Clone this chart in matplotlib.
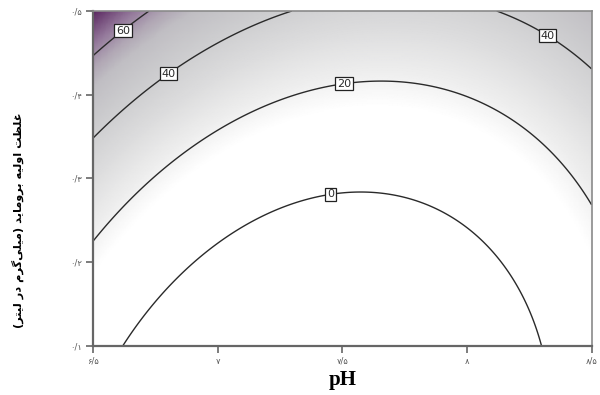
import numpy as np
import matplotlib
matplotlib.use("Agg")
import matplotlib.pyplot as plt
from matplotlib.colors import LinearSegmentedColormap, Normalize

# response-surface model (coded units)
# y = b0 + b1*X + b2*Y + b12*X*Y + b11*X^2 + b22*Y^2
coef_names = ["b0", "b1", "b2", "b12", "b11", "b22"]
coef_vals = [2.31, -4.17, 27.23, -6.23, 25.0, 7.32]
ph_center, ph_step = 7.5, 1.0
conc_center, conc_step = 0.3, 0.2

levels = [0, 20, 40, 60]
xticks = [6.5, 7.0, 7.5, 8.0, 8.5]
xtick_labels = ["۶/۵", "۷", "۷/۵", "۸", "۸/۵"]
yticks = [0.1, 0.2, 0.3, 0.4, 0.5]
ytick_labels = ["۰/۱", "۰/۲", "۰/۳", "۰/۴", "۰/۵"]
label_spots = [(6.61, 0.480), (6.82, 0.418), (8.32, 0.469), (7.50, 0.427), (7.45, 0.285)]

ylabel_text = "غلظت اولیه بروماید (میلی\u200cگرم در لیتر)"
xlabel_text = "pH"

# --- minimal arabic shaping (matplotlib has no bidi / joining) ---
forms = {
    "ا": ("\uFE8D", "\uFE8E", None, None),
    "ب": ("\uFE8F", "\uFE90", "\uFE91", "\uFE92"),
    "ت": ("\uFE95", "\uFE96", "\uFE97", "\uFE98"),
    "د": ("\uFEA9", "\uFEAA", None, None),
    "ر": ("\uFEAD", "\uFEAE", None, None),
    "ظ": ("\uFEC5", "\uFEC6", "\uFEC7", "\uFEC8"),
    "غ": ("\uFECD", "\uFECE", "\uFECF", "\uFED0"),
    "گ": ("\uFB92", "\uFB93", "\uFB94", "\uFB95"),
    "ل": ("\uFEDD", "\uFEDE", "\uFEDF", "\uFEE0"),
    "م": ("\uFEE1", "\uFEE2", "\uFEE3", "\uFEE4"),
    "ه": ("\uFEE9", "\uFEEA", "\uFEEB", "\uFEEC"),
    "و": ("\uFEED", "\uFEEE", None, None),
    "ی": ("\uFBFC", "\uFBFD", "\uFBFE", "\uFBFF"),
}


def dual(c):
    return c in forms and forms[c][2] is not None


def shape(text):
    out = []
    for i, c in enumerate(text):
        if c not in forms:
            if c == "\u200c":
                continue
            out.append({"(": ")", ")": "("}.get(c, c))
            continue
        prev = text[i - 1] if i > 0 else ""
        nxt = text[i + 1] if i + 1 < len(text) else ""
        jp = dual(prev)
        jn = dual(c) and nxt in forms
        if jp and jn:
            g = forms[c][3]
        elif jp:
            g = forms[c][1]
        elif jn:
            g = forms[c][2]
        else:
            g = forms[c][0]
        out.append(g)
    return "".join(reversed(out))


b = dict(zip(coef_names, coef_vals))
ph = np.linspace(6.5, 8.5, 300)
conc = np.linspace(0.1, 0.5, 300)
PH, CC = np.meshgrid(ph, conc)
X = (PH - ph_center) / ph_step
Y = (CC - conc_center) / conc_step
Z = (b["b0"] + b["b1"] * X + b["b2"] * Y + b["b12"] * X * Y
     + b["b11"] * X ** 2 + b["b22"] * Y ** 2)

cmap = LinearSegmentedColormap.from_list("rsm", [
    (0.0, "#ffffff"), (15 / 75, "#ffffff"), (22 / 75, "#eeeeee"),
    (32 / 75, "#dcdcdd"), (42 / 75, "#cdcdcf"), (52 / 75, "#c0bec3"),
    (57 / 75, "#b0a6b4"), (63 / 75, "#957a9c"), (1.0, "#4a1050")])

fig = plt.figure(figsize=(6, 3.95), dpi=100)
ax = fig.add_axes([0.1555, 0.1248, 0.8305, 0.8474])
ax.pcolormesh(PH, CC, Z, cmap=cmap, norm=Normalize(0, 75), shading="gouraud")
cs = ax.contour(PH, CC, Z, levels=levels, colors="#2a2a2a", linewidths=1.0)
lbls = ax.clabel(cs, fmt="%d", fontsize=8, inline=False, manual=label_spots)
for t in lbls:
    t.set_rotation(0)
    t.set_bbox(dict(boxstyle="square,pad=0.15", fc="white", ec="#222222", lw=0.9))
    t.set_zorder(5)

ax.set_xlim(6.5, 8.5)
ax.set_ylim(0.1, 0.5)
ax.set_xticks(xticks)
ax.set_xticklabels(xtick_labels, fontsize=6, color="#555555")
ax.set_yticks(yticks)
ax.set_yticklabels(ytick_labels, fontsize=6, color="#555555")
ax.tick_params(length=5, width=1.2, color="#666666", pad=3)
for s in ["left", "bottom"]:
    ax.spines[s].set_linewidth(1.6)
    ax.spines[s].set_color("#666666")
for s in ["top", "right"]:
    ax.spines[s].set_linewidth(1.2)
    ax.spines[s].set_color("#8a8a8a")

ax.set_xlabel(xlabel_text, fontsize=15, fontweight="bold",
              family="Liberation Serif", labelpad=3)
fig.text(0.03, 0.443, shape(ylabel_text), rotation=90, ha="center",
         va="center", fontsize=8.2, fontweight="bold", family="DejaVu Sans")

fig.savefig("out.png", dpi=100)
